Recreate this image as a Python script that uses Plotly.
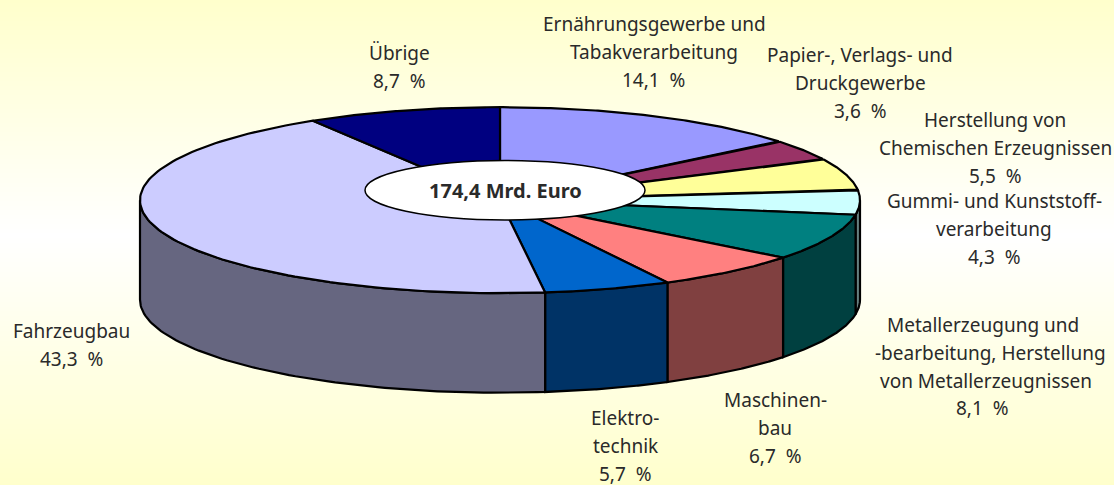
import numpy as np
import plotly.graph_objects as go

# Data (clockwise from 12 o'clock)
values = [14.1, 3.6, 5.5, 4.3, 8.1, 6.7, 5.7, 43.3, 8.7]
label_lines = [
    ["Ernährungsgewerbe und", "Tabakverarbeitung"],
    ["Papier-, Verlags- und", "Druckgewerbe"],
    ["Herstellung von", "Chemischen Erzeugnissen"],
    ["Gummi- und Kunststoff-", "verarbeitung"],
    ["Metallerzeugung und", "-bearbeitung, Herstellung", "von Metallerzeugnissen"],
    ["Maschinen-", "bau"],
    ["Elektro-", "technik"],
    ["Fahrzeugbau"],
    ["Übrige"],
]
top_colors = ["#9999FF", "#993366", "#FFFF99", "#CCFFFF", "#008080",
              "#FF8080", "#0066CC", "#CCCCFF", "#000080"]
side_colors = ["#4D4D80", "#4D1A33", "#80804D", "#668080", "#004040",
               "#804040", "#003366", "#666680", "#000040"]
total_label = "174,4 Mrd. Euro"

# Layout of each label: centre x of every line, and y of the first line
label_cx = [[654, 654, 653], [860, 860, 860], [995, 995, 995], [994, 994, 994],
            [983, 990, 986, 982], [775, 775, 775], [625, 625, 625], [71, 71], [399, 399]]
label_y0 = [24, 55, 120, 201, 325, 400, 418, 331, 53]
line_h = 27.8

W, H = 1114, 485
cx, cy, a, b, depth = 500, 200.2, 360, 93, 99.5
FONT = "Noto Sans"
TXT = "#2A2A2A"


def px(t):
    return cx + a * np.sin(t)


def py(t):
    return cy - b * np.cos(t)


fig = go.Figure()
fig.add_trace(go.Heatmap(x=[0, W], y=[0, 235, H], z=[[0, 0], [1, 1], [0, 0]],
                         zsmooth="best", showscale=False, hoverinfo="skip",
                         colorscale=[[0, "#FFFFCC"], [1, "#FFFFFF"]]))

edges = np.cumsum([0] + values) / sum(values) * 2 * np.pi

# side walls of the front half
for i in range(len(values)):
    s = max(edges[i], np.pi / 2)
    e = min(edges[i + 1], 3 * np.pi / 2)
    if e <= s:
        continue
    t = np.linspace(s, e, 80)
    xs = np.r_[px(t), px(t[::-1]), px(t[0])]
    ys = np.r_[py(t), py(t[::-1]) + depth, py(t[0])]
    fig.add_trace(go.Scatter(x=xs, y=ys, mode="lines", fill="toself",
                             fillcolor=side_colors[i], hoverinfo="skip",
                             line=dict(color="black", width=2.2)))

# top wedges
for i in range(len(values)):
    t = np.linspace(edges[i], edges[i + 1], 120)
    xs = np.r_[cx, px(t), cx]
    ys = np.r_[cy, py(t), cy]
    fig.add_trace(go.Scatter(x=xs, y=ys, mode="lines", fill="toself",
                             fillcolor=top_colors[i], hoverinfo="skip",
                             line=dict(color="black", width=2.2)))

annotations = []
for lines, v, xs_, y0 in zip(label_lines, values, label_cx, label_y0):
    all_lines = lines + [f"{v:.1f}\u00A0\u00A0%".replace(".", ",")]
    for k, (ln, lx) in enumerate(zip(all_lines, xs_)):
        annotations.append(dict(x=lx, y=y0 + k * line_h, text=ln, showarrow=False,
                                xanchor="center", yanchor="middle",
                                font=dict(family=FONT, size=19, color=TXT)))
annotations.append(dict(x=505, y=190, text=f"<b>{total_label}</b>", showarrow=False,
                        font=dict(family=FONT, size=20, color=TXT)))

fig.update_layout(
    width=W, height=H, margin=dict(l=0, r=0, t=0, b=0), showlegend=False,
    paper_bgcolor="#FFFFFF", plot_bgcolor="#FFFFFF",
    xaxis=dict(range=[0, W], visible=False, fixedrange=True),
    yaxis=dict(range=[H, 0], visible=False, fixedrange=True),
    annotations=annotations,
    shapes=[dict(type="circle", xref="x", yref="y", x0=365, x1=645, y0=160.5, y1=220,
                 fillcolor="white", line=dict(color="black", width=1.5), layer="above")],
)
fig.write_html("out.html", config=dict(displayModeBar=False),
               post_script="document.body.style.margin='0';document.documentElement.style.overflow='hidden';")
